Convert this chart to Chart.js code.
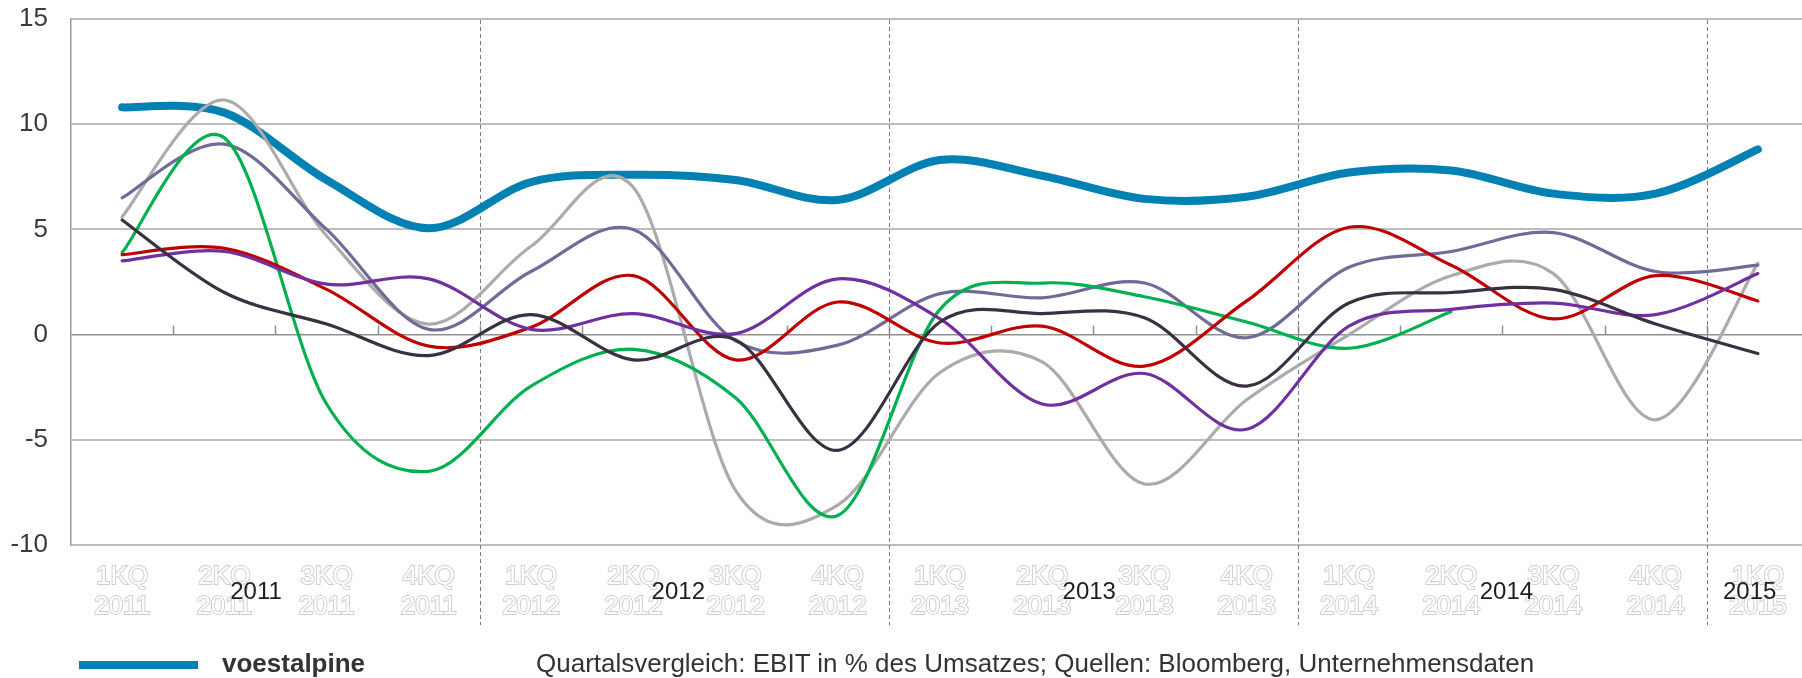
<!DOCTYPE html>
<html><head><meta charset="utf-8">
<script src="https://cdn.jsdelivr.net/npm/chart.js@4.4.1/dist/chart.umd.min.js"></script>
<style>
html,body{margin:0;padding:0;background:#fff;overflow:hidden;width:1802px;height:678px;}
#wrap{position:relative;width:1802px;height:678px;overflow:hidden;}
#c{position:absolute;left:0;top:0;}
.swatch{position:absolute;left:79px;top:661px;width:119px;height:8px;background:#0081b3;}
.legname{position:absolute;left:222px;top:650px;font:bold 26px "Liberation Sans",Arial,sans-serif;color:#333;line-height:26px;white-space:nowrap;}
.note{position:absolute;left:536px;top:650px;font:26px "Liberation Sans",Arial,sans-serif;color:#333;line-height:26px;white-space:nowrap;}
</style></head>
<body>
<div id="wrap">
<canvas id="c" width="1809" height="678"></canvas>
<div class="swatch"></div>
<div class="legname" id="legname"></div>
<div class="note" id="note"></div>
</div>
<script>
const categories = [
  '1KQ 2011','2KQ 2011','3KQ 2011','4KQ 2011',
  '1KQ 2012','2KQ 2012','3KQ 2012','4KQ 2012',
  '1KQ 2013','2KQ 2013','3KQ 2013','4KQ 2013',
  '1KQ 2014','2KQ 2014','3KQ 2014','4KQ 2014',
  '1KQ 2015'
];
const yearLabels = ['2011','2012','2013','2014','2015'];
const yTickValues = [-10, -5, 0, 5, 10, 15];

const voestalpine = [10.8, 10.55, 7.35, 5.05, 7.25, 7.6, 7.35, 6.4, 8.3, 7.55, 6.45, 6.55, 7.7, 7.8, 6.7, 6.7, 8.8];
const peerGrey    = [5.6, 11.15, 4.7, 0.5, 4.2, 7.0, -7.4, -8.1, -1.8, -1.3, -7.1, -3.1, 0.0, 2.8, 2.9, -4.05, 3.4];
const peerSlate   = [6.5, 9.05, 5.0, 0.25, 3.0, 5.0, -0.3, -0.5, 1.95, 1.75, 2.45, -0.15, 3.2, 3.95, 4.85, 3.0, 3.3];
const peerGreen   = [3.9, 9.35, -3.3, -6.5, -2.45, -0.7, -3.0, -8.6, 1.2, 2.45, 1.8, 0.6, -0.65, 1.1, null, null, null];
const peerRed     = [3.8, 4.1, 2.15, -0.55, 0.35, 2.8, -1.2, 1.55, -0.4, 0.4, -1.5, 1.6, 5.1, 3.3, 0.75, 2.8, 1.6];
const peerPurple  = [3.5, 3.95, 2.4, 2.65, 0.25, 1.0, 0.05, 2.65, 0.75, -3.3, -1.85, -4.5, 0.4, 1.2, 1.5, 0.95, 2.9];
const peerDark    = [5.45, 2.0, 0.5, -1.0, 0.95, -1.2, -0.25, -5.5, 0.6, 1.0, 0.8, -2.45, 1.5, 2.0, 2.15, 0.5, -0.9];

const legendLabel = 'voestalpine';
const noteText = 'Quartalsvergleich: EBIT in % des Umsatzes; Quellen: Bloomberg, Unternehmensdaten';
document.getElementById('legname').textContent = legendLabel;
document.getElementById('note').textContent = noteText;

const FONT = '"Liberation Sans", Arial, sans-serif';

// Excel-like (Catmull-Rom) smoothing of the library's own bezier control points
const smoothPlugin = {
  id: 'smooth',
  beforeDatasetsDraw(chart) {
    chart.getSortedVisibleDatasetMetas().forEach(meta => {
      const line = meta.dataset;
      const pts = line.points;
      const segs = []; let seg = [];
      pts.forEach(p => { if (p.skip) { if (seg.length) segs.push(seg); seg = []; } else seg.push(p); });
      if (seg.length) segs.push(seg);
      segs.forEach(s => {
        for (let i = 0; i < s.length; i++) {
          const p = s[i], prev = s[i - 1] || p, next = s[i + 1] || p;
          const dx = (next.x - prev.x) / 6, dy = (next.y - prev.y) / 6;
          p.cp1x = p.x - dx; p.cp1y = p.y - dy;
          p.cp2x = p.x + dx; p.cp2y = p.y + dy;
        }
      });
      line._path = undefined;
    });
  }
};

const decorPlugin = {
  id: 'decor',
  beforeDatasetsDraw(chart, args, opts) {
    const x = chart.scales.x, y = chart.scales.y, ctx = chart.ctx, area = chart.chartArea;
    const y0 = y.getPixelForValue(0);
    ctx.save();
    ctx.strokeStyle = '#8f8f8f';
    ctx.lineWidth = 1.5;
    for (let k = 0; k < categories.length - 1; k++) {
      const px = Math.round(x.getPixelForValue(k + 0.5)) + 0.5;
      ctx.beginPath(); ctx.moveTo(px, y0 - 9); ctx.lineTo(px, y0); ctx.stroke();
    }
    ctx.strokeStyle = '#7a7a7a';
    ctx.lineWidth = 1;
    ctx.setLineDash([4, 3]);
    for (let k = 0; k < categories.length - 1; k++) {
      if (categories[k].split(' ')[1] !== categories[k + 1].split(' ')[1]) {
        const px = Math.round(x.getPixelForValue(k + 0.5)) + 0.5;
        ctx.beginPath(); ctx.moveTo(px, area.top + 1); ctx.lineTo(px, area.bottom + opts.dashExtra); ctx.stroke();
      }
    }
    ctx.restore();
  },
  afterDraw(chart, args, opts) {
    const x = chart.scales.x, ctx = chart.ctx;
    ctx.save();
    ctx.font = '24px ' + FONT;
    ctx.fillStyle = '#1e1e1e';
    ctx.textAlign = 'center';
    ctx.textBaseline = 'middle';
    yearLabels.forEach((t, i) => {
      ctx.fillText(t, x.getPixelForValue(opts.yearAt[i]), opts.yearY);
    });
    ctx.restore();
  }
};

const mk = (label, data, color, width, order) => ({
  label, data, borderColor: color, backgroundColor: color, borderWidth: width,
  pointRadius: 0, pointHoverRadius: 0, tension: 0.4, fill: false, order,
  borderCapStyle: 'round', borderJoinStyle: 'round', spanGaps: false
});

new Chart(document.getElementById('c'), {
  type: 'line',
  data: {
    labels: categories,
    datasets: [
      mk(legendLabel, voestalpine, '#0081b3', 8, 10),
      mk('Peer A', peerGrey, '#ababab', 3.2, 6),
      mk('Peer B', peerSlate, '#716a98', 3.2, 5),
      mk('Peer C', peerGreen, '#00b050', 3.2, 4),
      mk('Peer D', peerRed, '#c00000', 3.2, 3),
      mk('Peer E', peerPurple, '#7030a0', 3.2, 2),
      mk('Peer F', peerDark, '#3b3042', 3.2, 1)
    ]
  },
  options: {
    responsive: false,
    devicePixelRatio: 1,
    animation: false,
    events: [],
    layout: { padding: { top: 19, left: 0, right: 0, bottom: 0 } },
    plugins: {
      legend: { display: false },
      tooltip: { enabled: false },
      decor: { yearAt: [1.31, 5.44, 9.46, 13.54, 15.92], yearY: 592, dashExtra: 80 }
    },
    scales: {
      x: {
        type: 'category',
        offset: true,
        grid: { display: false, drawTicks: false },
        border: { display: false },
        ticks: {
          autoSkip: false, maxRotation: 0, minRotation: 0,
          padding: 17,
          color: '#ffffff',
          textStrokeColor: '#cfcfcf',
          textStrokeWidth: 2,
          font: { family: FONT, size: 26, lineHeight: '30px' },
          callback: (v, i) => categories[i].split(' ')
        },
        afterFit: s => { s.height = 133; s.paddingLeft = 0; s.paddingRight = 0; }
      },
      y: {
        min: -10, max: 15,
        afterBuildTicks: s => { s.ticks = yTickValues.map(v => ({ value: v })); },
        grid: {
          drawTicks: false,
          color: c => (c.tick && c.tick.value === 0) ? '#8f8f8f' : '#bdbdbd',
          lineWidth: c => (c.tick && c.tick.value === 0) ? 1.5 : 2
        },
        border: { display: true, color: '#999999', width: 1.5 },
        ticks: {
          padding: 23,
          color: '#3a3a3a',
          font: { family: FONT, size: 26 }
        },
        afterFit: s => { s.width = 71; s.paddingTop = 0; s.paddingBottom = 0; }
      }
    }
  },
  plugins: [smoothPlugin, decorPlugin]
});
</script>
</body></html>
